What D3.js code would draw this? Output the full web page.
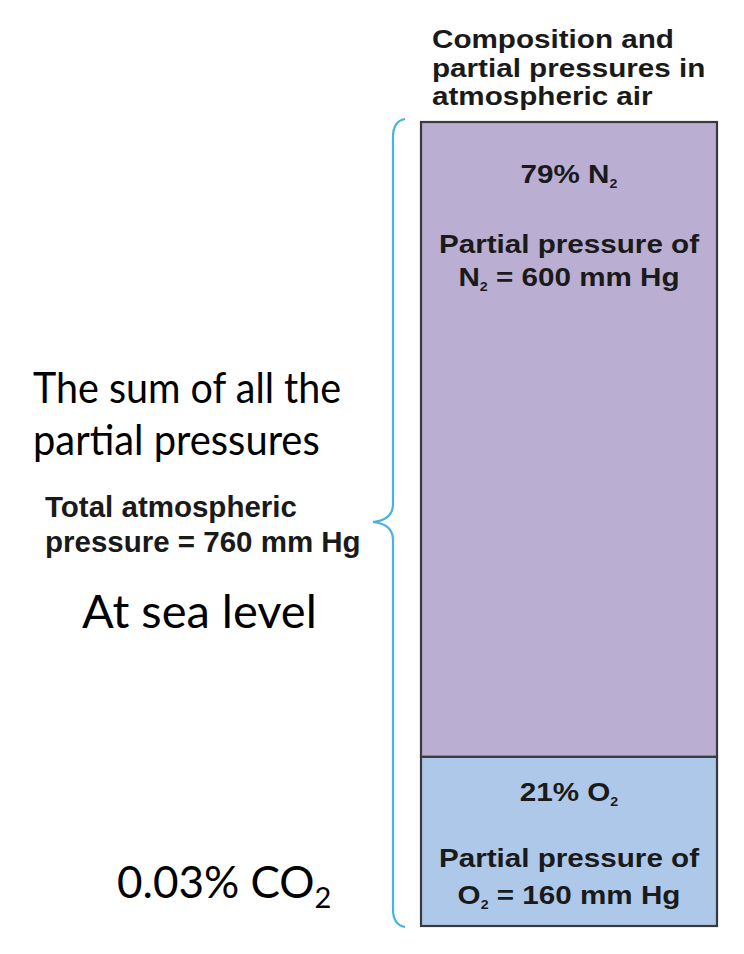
<!DOCTYPE html>
<html>
<head>
<meta charset="utf-8">
<script src="https://cdn.jsdelivr.net/npm/d3@7"></script>
<style>
  html, body { margin: 0; padding: 0; background: #ffffff; }
  svg { display: block; }
</style>
</head>
<body>
<svg id="chart" width="744" height="954"></svg>
<script>
// ---- data ----
const gases = ["N", "O"];            // element symbol (subscript 2 added)
const percents = [79, 21];           // % composition
const pressures = [600, 160];        // partial pressure, mm Hg
const totalPressure = 760;           // mm Hg at sea level
const co2Percent = "0.03";
const titleLines = ["Composition and", "partial pressures in", "atmospheric air"];

// ---- layout ----
const svg = d3.select("#chart");
const boxX0 = 421, boxX1 = 717;
const y = d3.scaleLinear().domain([0, totalPressure]).range([926, 122]);
const cx = (boxX0 + boxX1) / 2;
const stretch = 1.14;
const fs = 26;
const boxFont = "'Liberation Sans', Arial, Helvetica, sans-serif";
const calFont = "Lato, 'Open Sans', sans-serif";

// stacked segments: N2 on top of O2 (O2 at bottom)
const segs = [];
let acc = 0;
for (let i = gases.length - 1; i >= 0; i--) {
  segs.push({gas: gases[i], pct: percents[i], p: pressures[i], y0: acc, y1: acc + pressures[i]});
  acc += pressures[i];
}
const fills = {N: "#bbaed3", O: "#aec8e9"};

svg.selectAll("rect.seg").data(segs).join("rect")
  .attr("class", "seg")
  .attr("x", boxX0).attr("width", boxX1 - boxX0)
  .attr("y", d => y(d.y1)).attr("height", d => y(d.y0) - y(d.y1))
  .attr("fill", d => fills[d.gas])
  .attr("stroke", "#3a3a3e").attr("stroke-width", 2.2);

// title
svg.append("g").selectAll("text").data(titleLines).join("text")
  .attr("transform", (d, i) => `translate(432,${48 + i * 28.5}) scale(${stretch},1)`)
  .attr("font-family", boxFont).attr("font-weight", "bold").attr("font-size", fs)
  .attr("fill", "#1a1a1a")
  .text(d => d);

// labels inside segments
const labelOffsets = {N: [61, 131, 164], O: [44, 110, 147]};
function subText(sel, parts, subSize, subDy) {
  let shifted = false;
  parts.forEach(p => {
    const t = sel.append("tspan").text(p.t);
    if (p.sub) { t.attr("font-size", subSize).attr("dy", subDy); shifted = true; }
    else if (shifted) { t.attr("dy", -subDy); shifted = false; }
  });
}
segs.forEach(d => {
  const top = y(d.y1);
  const off = labelOffsets[d.gas];
  const mk = (yy) => svg.append("text")
    .attr("transform", `translate(${cx},${top + yy}) scale(${stretch},1)`)
    .attr("text-anchor", "middle")
    .attr("font-family", boxFont).attr("font-weight", "bold").attr("font-size", fs)
    .attr("fill", "#1a1a1a");
  subText(mk(off[0]), [{t: d.pct + "% " + d.gas}, {t: "2", sub: true}], 12.5, 5);
  mk(off[1]).text("Partial pressure of");
  subText(mk(off[2]), [{t: d.gas}, {t: "2", sub: true}, {t: " = " + d.p + " mm Hg"}], 12.5, 5);
});

// curly bracket spanning total pressure
const bTop = y(totalPressure) - 3, bBot = y(0) + 1;
const bMid = (bTop + bBot) / 2 - 1;
const xv = 393, xTip = 373, xEnd = 405;
const br = d3.path();
br.moveTo(xEnd, bTop);
br.quadraticCurveTo(xv, bTop + 2, xv, bTop + 18);
br.lineTo(xv, bMid - 18);
br.quadraticCurveTo(xv, bMid - 2, xTip, bMid);
br.quadraticCurveTo(xv, bMid + 2, xv, bMid + 18);
br.lineTo(xv, bBot - 18);
br.quadraticCurveTo(xv, bBot - 2, xEnd, bBot);
svg.append("path").attr("d", br.toString())
  .attr("fill", "none").attr("stroke", "#45b3e3").attr("stroke-width", 2.2);

// left-side text
const left = svg.append("g").attr("fill", "#000");
left.append("text").attr("transform", "translate(33,403) scale(0.94,1)")
  .attr("font-family", calFont).attr("font-size", 42).text("The sum of all the");
left.append("text").attr("transform", "translate(33,455) scale(0.95,1)")
  .attr("font-family", calFont).attr("font-size", 42).text("partial pressures");
left.append("text").attr("x", 45).attr("y", 517)
  .attr("font-family", boxFont).attr("font-weight", "bold").attr("font-size", 29.5).attr("fill", "#1a1a1a")
  .text("Total atmospheric");
left.append("text").attr("x", 45).attr("y", 552)
  .attr("font-family", boxFont).attr("font-weight", "bold").attr("font-size", 29.5).attr("fill", "#1a1a1a")
  .text("pressure = " + totalPressure + " mm Hg");
left.append("text").attr("x", 82).attr("y", 628)
  .attr("font-family", calFont).attr("font-size", 47).text("At sea level");
const co2 = left.append("text").attr("x", 117).attr("y", 898)
  .attr("font-family", calFont).attr("font-size", 44);
co2.append("tspan").text(co2Percent + "% CO");
co2.append("tspan").attr("font-size", 29).attr("dy", 10).text("2");
</script>
</body>
</html>
